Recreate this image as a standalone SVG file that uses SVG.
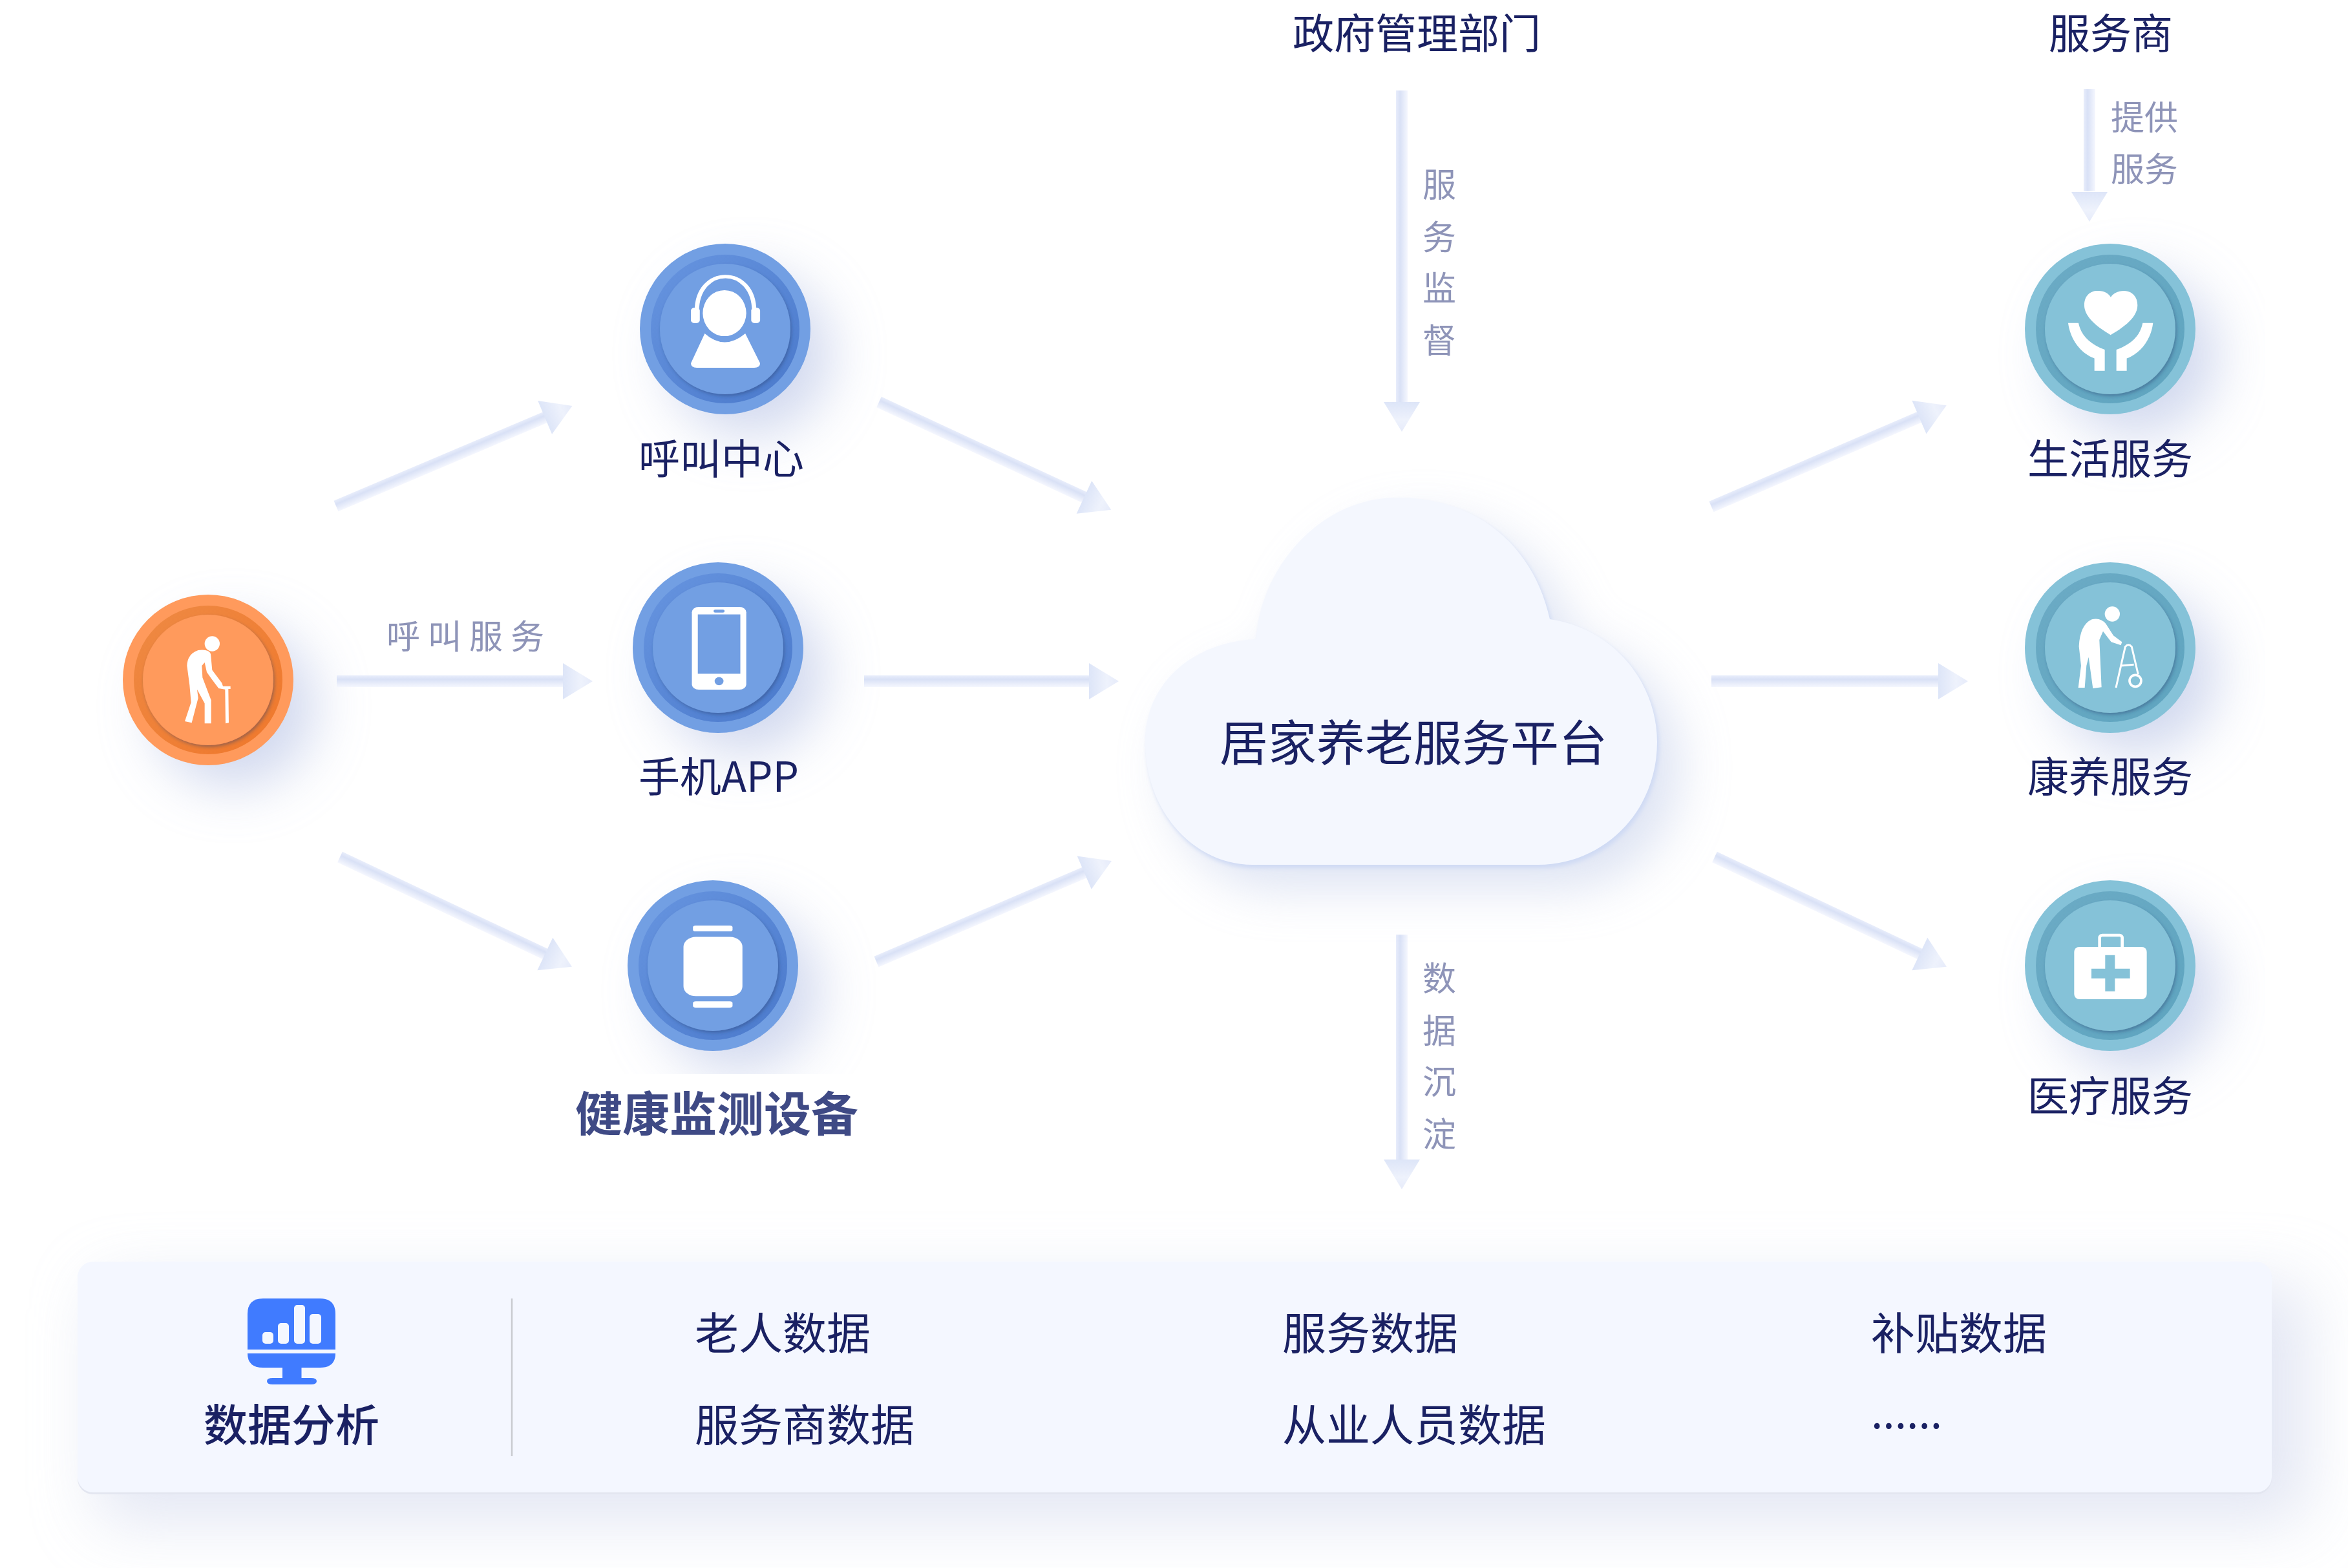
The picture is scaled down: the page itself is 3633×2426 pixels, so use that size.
<svg xmlns="http://www.w3.org/2000/svg" width="3633" height="2426" viewBox="0 0 3633 2426">
<style>
text{font-family:"Noto Sans CJK SC","Noto Sans",sans-serif;fill:#1a2163}
.l64{font-size:64px}
.p68{font-size:68px}
.g52{font-size:52px;fill:#8e94b8}
.shaft{fill:url(#shaftGrad)}
.head{fill:url(#headGrad)}
.w{fill:#fff}
.shadow{fill:#b4c0e4;opacity:.62}
.blue .rim,.blue .disc{fill:#729fe3}.blue .groove{fill:url(#gBlue)}
.orange .rim,.orange .disc{fill:#ff9a5c}.orange .groove{fill:url(#gOrange)}
.teal .rim,.teal .disc{fill:#85c2d8}.teal .groove{fill:url(#gTeal)}
.disc{filter:url(#discShadow)}
</style>
<defs>
<linearGradient id="shaftGrad" x1="0" y1="0" x2="0" y2="1"><stop offset="0" stop-color="#e8edfb"/><stop offset=".35" stop-color="#d9e1f6"/><stop offset="1" stop-color="#f5f7fe"/></linearGradient>
<linearGradient id="headGrad" x1="0" y1="0" x2="1" y2="0"><stop offset="0" stop-color="#dde5f8"/><stop offset=".6" stop-color="#eef2fc"/><stop offset="1" stop-color="#e6ebfa"/></linearGradient>
<linearGradient id="gBlue" x1="0" y1="0" x2="1" y2="1"><stop offset="0" stop-color="#6795e0"/><stop offset="1" stop-color="#4a79cb"/></linearGradient>
<linearGradient id="gOrange" x1="0" y1="0" x2="1" y2="1"><stop offset="0" stop-color="#ee8a44"/><stop offset="1" stop-color="#ef772b"/></linearGradient>
<linearGradient id="gTeal" x1="0" y1="0" x2="1" y2="1"><stop offset="0" stop-color="#6cabc5"/><stop offset="1" stop-color="#5ea4bf"/></linearGradient>
<filter id="blur45" x="-60%" y="-60%" width="220%" height="220%"><feGaussianBlur stdDeviation="42"/></filter>
<filter id="blurWatch" filterUnits="userSpaceOnUse" x="850" y="1240" width="700" height="422"><feGaussianBlur stdDeviation="42"/></filter>
<filter id="blurTeal" filterUnits="userSpaceOnUse" x="2950" y="200" width="555" height="1700"><feGaussianBlur stdDeviation="42"/></filter>
<filter id="blurCloud" x="-20%" y="-20%" width="140%" height="140%"><feGaussianBlur stdDeviation="38"/></filter>
<filter id="blurPanel" x="-10%" y="-60%" width="120%" height="220%"><feGaussianBlur stdDeviation="50"/></filter>
<filter id="soft" x="-5%" y="-5%" width="110%" height="110%"><feGaussianBlur stdDeviation="3"/></filter>
<filter id="discShadow" x="-15%" y="-15%" width="130%" height="130%"><feDropShadow dx="2" dy="3" stdDeviation="2.5" flood-color="#2a3f70" flood-opacity=".4"/></filter>
<polygon id="head" class="head" points="0,0 -46,-28 -46,28"/>
</defs>
<rect width="3633" height="2426" fill="#fff"/>

<g id="shadows">
<circle class="shadow" cx="362" cy="1092" r="125" filter="url(#blur45)"/>
<circle class="shadow" cx="1160" cy="548" r="125" filter="url(#blur45)"/>
<circle class="shadow" cx="1150" cy="1041" r="125" filter="url(#blur45)"/>
<circle class="shadow" cx="1143" cy="1533" r="125" filter="url(#blurWatch)"/>
<circle class="shadow" cx="3305" cy="549" r="125" filter="url(#blurTeal)"/>
<circle class="shadow" cx="3305" cy="1042" r="125" filter="url(#blurTeal)"/>
<circle class="shadow" cx="3305" cy="1533" r="125" filter="url(#blurTeal)"/>
</g>

<g id="connectors">
<g transform="translate(520 783) rotate(-23)"><rect class="shaft" y="-9" width="352" height="18"/><use href="#head" x="397"/></g>
<g transform="translate(521 1054)"><rect class="shaft" y="-9" width="350" height="18"/><use href="#head" x="396"/></g>
<g transform="translate(526 1326) rotate(25.3)"><rect class="shaft" y="-9" width="352" height="18"/><use href="#head" x="397"/></g>
<g transform="translate(1360 622) rotate(24.9)"><rect class="shaft" y="-9" width="351" height="18"/><use href="#head" x="396"/></g>
<g transform="translate(1337 1054)"><rect class="shaft" y="-9" width="349" height="18"/><use href="#head" x="394"/></g>
<g transform="translate(1356 1488) rotate(-23.2)"><rect class="shaft" y="-9" width="351" height="18"/><use href="#head" x="396"/></g>
<g transform="translate(2648 784) rotate(-23.3)"><rect class="shaft" y="-9" width="352" height="18"/><use href="#head" x="396"/></g>
<g transform="translate(2648 1054)"><rect class="shaft" y="-9" width="352" height="18"/><use href="#head" x="397"/></g>
<g transform="translate(2653 1326) rotate(25.3)"><rect class="shaft" y="-9" width="352" height="18"/><use href="#head" x="397"/></g>
<g transform="translate(2169 140) rotate(90) scale(1 -1)"><rect class="shaft" y="-9" width="484" height="18"/><use href="#head" x="528"/></g>
<g transform="translate(2169 1446) rotate(90) scale(1 -1)"><rect class="shaft" y="-9" width="350" height="18"/><use href="#head" x="394"/></g>
<g transform="translate(3233 138) rotate(90) scale(1 -1)"><rect class="shaft" y="-9" width="158" height="18"/><use href="#head" x="205"/></g>
</g>

<g id="node-elder" class="orange">
<circle class="rim" cx="322" cy="1052" r="132"/><circle class="groove" cx="322" cy="1052" r="115"/><circle class="disc" cx="322" cy="1052" r="101"/>
<g transform="translate(150 880) scale(.3333)" class="w">
<circle cx="535" cy="348" r="35"/>
<path d="M470 378Q520 372 528 395L535 470L580 530L585 545L620 545L620 558L610 558L612 715L597 718L595 560L565 555L535 515L510 480L500 435L487 450L490 505L530 610L530 718L500 718L500 625L465 560L470 600L440 715L408 708L437 620L430 540L418 450Q420 395 470 378Z"/>
</g>
</g>

<g id="node-call" class="blue">
<circle class="rim" cx="1122" cy="509" r="132"/><circle class="groove" cx="1122" cy="509" r="115"/><circle class="disc" cx="1122" cy="509" r="101"/>
<g transform="translate(151 341) scale(.765 .574)">
<path d="M1212 245C1212 120 1328 120 1328 245" fill="none" stroke="#fff" stroke-width="9"/>
<rect class="w" x="1200" y="235" width="18" height="42" rx="8"/><rect class="w" x="1322" y="235" width="18" height="42" rx="8"/>
<ellipse class="w" cx="1268" cy="250" rx="44" ry="62"/>
<path class="w" d="M1228 305Q1268 352 1310 305L1340 385Q1340 397 1328 397L1212 397Q1200 397 1200 385Z"/>
</g>
</g>

<g id="node-phone" class="blue">
<circle class="rim" cx="1111" cy="1002" r="132"/><circle class="groove" cx="1111" cy="1002" r="115"/><circle class="disc" cx="1111" cy="1002" r="101"/>
<g transform="translate(151 341) scale(.765 .574)">
<rect class="w" x="1202" y="1042" width="110" height="223" rx="14"/>
<rect x="1214" y="1062" width="86" height="160" fill="#729fe3"/>
<rect x="1246" y="1049" width="22" height="8" rx="3" fill="#729fe3"/>
<ellipse cx="1257" cy="1242" rx="9" ry="11" fill="#729fe3"/>
</g>
</g>

<g id="node-watch" class="blue">
<circle class="rim" cx="1103" cy="1494" r="132"/><circle class="groove" cx="1103" cy="1494" r="115"/><circle class="disc" cx="1103" cy="1494" r="101"/>
<g transform="translate(900 1301) scale(.6378 .3827)" class="w">
<rect x="247" y="388" width="143" height="240" rx="30" ry="40"/>
<rect x="270" y="342" width="96" height="24" rx="7"/>
<rect x="270" y="649" width="96" height="25" rx="7"/>
</g>
</g>

<g id="node-life" class="teal">
<circle class="rim" cx="3265" cy="509" r="132"/><circle class="groove" cx="3265" cy="509" r="115"/><circle class="disc" cx="3265" cy="509" r="101"/>
<g transform="translate(3000 101) scale(.3333 .3827)" class="w">
<path d="M797 1090C700 1040 675 1000 675 970C675 930 705 910 740 912C770 912 790 925 798 938C806 925 830 912 860 912C895 912 922 935 922 970C922 1005 890 1045 797 1090Z"/>
<path d="M600 1042L648 1042C660 1090 695 1125 770 1150L770 1235L722 1235L722 1185C660 1165 610 1110 600 1042Z"/>
<path d="M994 1042L946 1042C935 1090 900 1125 824 1150L824 1235L872 1235L872 1185C935 1165 985 1110 994 1042Z"/>
</g>
</g>

<g id="node-rehab" class="teal">
<circle class="rim" cx="3265" cy="1002" r="132"/><circle class="groove" cx="3265" cy="1002" r="115"/><circle class="disc" cx="3265" cy="1002" r="101"/>
<g transform="translate(3050 840) scale(.3333)">
<circle class="w" cx="655" cy="330" r="35"/>
<path class="w" d="M560 355Q600 345 625 375L660 430L700 460L695 475L650 460L612 410L595 450L605 670L565 675L545 530L535 570L527 672L497 672L510 570L500 480Q505 380 560 355Z"/>
<path d="M672 672L715 482Q730 465 745 482L775 610M695 570L755 565" fill="none" stroke="#fff" stroke-width="9"/>
<circle cx="762" cy="640" r="27" fill="none" stroke="#fff" stroke-width="11"/>
</g>
</g>

<g id="node-medical" class="teal">
<circle class="rim" cx="3265" cy="1494" r="132"/><circle class="groove" cx="3265" cy="1494" r="115"/><circle class="disc" cx="3265" cy="1494" r="101"/>
<g transform="translate(3050 1341) scale(.3333)">
<rect x="596" y="318" width="105" height="70" rx="12" fill="none" stroke="#fff" stroke-width="14"/>
<rect class="w" x="478" y="372" width="337" height="243" rx="24"/>
<path d="M622 410H667V473H737V518H667V578H622V518H558V473H622Z" fill="#85c2d8"/>
</g>
</g>

<g id="node-cloud">
<path d="M1945 991C1950 885 2040 772 2163 772C2290 772 2375 850 2399 960C2500 975 2565 1060 2565 1150C2565 1260 2480 1340 2381 1340L1939 1340C1850 1340 1773 1260 1773 1150C1773 1060 1845 995 1945 991Z" transform="translate(35 35)" fill="#c2cde9" opacity=".55" filter="url(#blurCloud)"/>
<path d="M1945 991C1950 885 2040 772 2163 772C2290 772 2375 850 2399 960C2500 975 2565 1060 2565 1150C2565 1260 2480 1340 2381 1340L1939 1340C1850 1340 1773 1260 1773 1150C1773 1060 1845 995 1945 991Z" transform="translate(2 3)" fill="#cfdaf4" filter="url(#soft)"/>
<path d="M1945 991C1950 885 2040 772 2163 772C2290 772 2375 850 2399 960C2500 975 2565 1060 2565 1150C2565 1260 2480 1340 2381 1340L1939 1340C1850 1340 1773 1260 1773 1150C1773 1060 1845 995 1945 991Z" transform="translate(-1 -2)" fill="#f4f7fe"/>
<text x="1887" y="1177" font-size="75">居家养老服务平台</text>
</g>

<g id="panel">
<rect x="150" y="1985" width="3420" height="370" rx="24" fill="#ccd3ea" opacity=".55" filter="url(#blurPanel)"/>
<rect x="120" y="1954" width="3395" height="358" rx="24" fill="#e3e6f0"/>
<rect x="120" y="1952" width="3395" height="357" rx="24" fill="#f4f7ff"/>
<line x1="792" y1="2009" x2="792" y2="2253" stroke="#c9cbd0" stroke-width="2.500"/>
<g id="chart-icon">
<path d="M383 2088V2033Q383 2009 407 2009H495Q519 2009 519 2033V2088Z" fill="#407bff"/>
<path d="M383 2094H519V2094Q519 2116 495 2116H466.500V2132H481Q490 2132 490 2137Q490 2142 481 2142H422Q413 2142 413 2137Q413 2132 422 2132H437V2116H407Q383 2116 383 2094Z" fill="#407bff"/>
<g fill="#f4f7ff"><rect x="406" y="2061" width="17" height="18" rx="5"/><rect x="430" y="2047" width="17" height="32" rx="5"/><rect x="455" y="2019" width="17" height="60" rx="5"/><rect x="479" y="2033" width="18" height="46" rx="5"/></g>
</g>
<text class="p68" x="315" y="2230" font-weight="500">数据分析</text>
<text class="p68" x="1075" y="2088">老人数据</text>
<text class="p68" x="1075" y="2230">服务商数据</text>
<text class="p68" x="1984" y="2088">服务数据</text>
<text class="p68" x="1984" y="2230">从业人员数据</text>
<text class="p68" x="2895" y="2088">补贴数据</text>
<text x="2895" y="2210" font-size="66">......</text>
</g>

<g id="labels">
<text class="l64" x="988" y="733">呼叫中心</text>
<text class="l64" x="988" y="1225">手机APP</text>
<text x="890" y="1750" font-size="73" font-weight="700" style="fill:#3f4a85">健康监测设备</text>
<text class="l64" x="3137" y="733">生活服务</text>
<text class="l64" x="3137" y="1225">康养服务</text>
<text class="l64" x="3137" y="1719">医疗服务</text>
<text class="l64" x="2000" y="75">政府管理部门</text>
<text class="l64" x="3170" y="75">服务商</text>
<text class="g52" x="598" y="1004" letter-spacing="12">呼叫服务</text>
<text class="g52" x="2201" y="305">服</text><text class="g52" x="2201" y="386">务</text><text class="g52" x="2201" y="465">监</text><text class="g52" x="2201" y="546">督</text>
<text class="g52" x="2201" y="1533">数</text><text class="g52" x="2201" y="1614">据</text><text class="g52" x="2201" y="1693">沉</text><text class="g52" x="2201" y="1774">淀</text>
<text class="g52" x="3266" y="201">提供</text>
<text class="g52" x="3266" y="281">服务</text>
</g>
</svg>
